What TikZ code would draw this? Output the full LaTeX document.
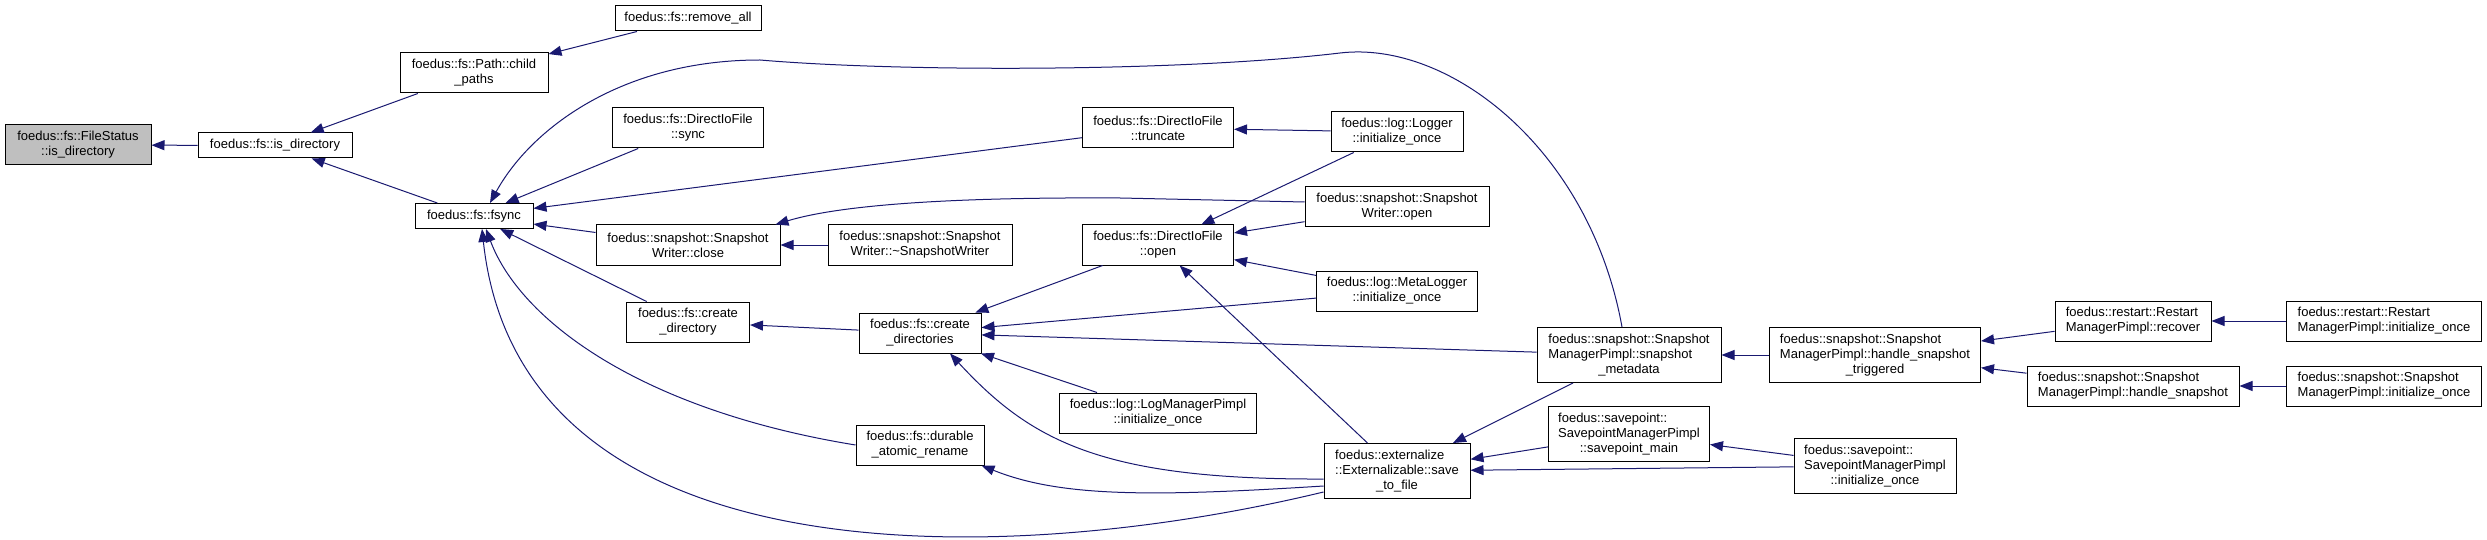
\documentclass[tikz,border=0pt]{standalone}
\usepackage{fontspec}
\setmainfont{Liberation Sans}
\usetikzlibrary{arrows.meta}
\definecolor{callblue}{RGB}{25,25,112}
\definecolor{focusgray}{RGB}{191,191,191}
\newcommand{\ctr}[1]{\hfill#1\hfill\hbox{}}

\begin{document}
\begin{tikzpicture}[
  x=1pt,y=-1pt,
  fn/.style={draw,rectangle,line width=1pt,fill=white,font=\fontsize{13}{15}\selectfont,align=center,inner xsep=2pt,inner ysep=1pt,minimum height=40pt},
  one/.style={minimum height=25pt},
  three/.style={minimum height=55pt},
  call/.style={draw=callblue,line width=1pt,{Triangle[length=13pt,width=10pt]}-}
]
\useasboundingbox (0,0) rectangle (2487,540);
\node[fn,fill=focusgray,minimum width=146pt] (filestatus) at (78,145) {foedus::fs::FileStatus\\::is\_directory};
\node[fn,one,minimum width=154pt] (isdir) at (275,145.5) {foedus::fs::is\_directory};
\node[fn,minimum width=148pt] (childpaths) at (474,73) {foedus::fs::Path::child\\\_paths};
\node[fn,one,minimum width=118pt] (fsync) at (474,216) {foedus::fs::fsync};
\node[fn,one,minimum width=146pt] (removeall) at (688,18.5) {foedus::fs::remove\_all};
\node[fn,minimum width=151pt] (iosync) at (688,128) {foedus::fs::DirectIoFile\\::sync};
\node[fn,minimum width=184pt] (wclose) at (688,245) {foedus::snapshot::Snapshot\\Writer::close};
\node[fn,minimum width=123pt] (mkdir) at (688,322) {foedus::fs::create\\\_directory};
\node[fn,minimum width=184pt] (wdtor) at (920,245) {foedus::snapshot::Snapshot\\Writer::\textasciitilde SnapshotWriter};
\node[fn,minimum width=122pt] (mkdirs) at (920,333) {foedus::fs::create\\\_directories};
\node[fn,minimum width=128pt] (rename) at (920,445) {foedus::fs::durable\\\_atomic\_rename};
\node[fn,minimum width=151pt] (iotrunc) at (1158,128) {foedus::fs::DirectIoFile\\::truncate};
\node[fn,minimum width=151pt] (ioopen) at (1158,245) {foedus::fs::DirectIoFile\\::open};
\node[fn,minimum width=197pt] (logmgr) at (1158,413) {foedus::log::LogManagerPimpl\\::initialize\_once};
\node[fn,minimum width=132pt] (logger) at (1397,132) {foedus::log::Logger\\::initialize\_once};
\node[fn,minimum width=184pt] (wopen) at (1397,207) {foedus::snapshot::Snapshot\\Writer::open};
\node[fn,minimum width=161pt] (metalog) at (1397,291) {foedus::log::MetaLogger\\::initialize\_once};
\node[fn,three,align=left,minimum width=146pt] (savefile) at (1397,471) {foedus::externalize\\::Externalizable::save\\\ctr{\_to\_file}};
\node[fn,three,align=left,minimum width=184pt] (ssmeta) at (1629,355) {foedus::snapshot::Snapshot\\ManagerPimpl::snapshot\\\ctr{\_metadata}};
\node[fn,three,align=left,minimum width=161pt] (spmain) at (1629,434) {foedus::savepoint::\\SavepointManagerPimpl\\\ctr{::savepoint\_main}};
\node[fn,three,align=left,minimum width=211pt] (sstrig) at (1875,355) {foedus::snapshot::Snapshot\\ManagerPimpl::handle\_snapshot\\\ctr{\_triggered}};
\node[fn,three,align=left,minimum width=162pt] (spinit) at (1875,466) {foedus::savepoint::\\SavepointManagerPimpl\\\ctr{::initialize\_once}};
\node[fn,align=left,minimum width=156pt] (rsrecover) at (2133,321) {foedus::restart::Restart\\ManagerPimpl::recover};
\node[fn,align=left,minimum width=212pt] (sshandle) at (2133,386) {foedus::snapshot::Snapshot\\ManagerPimpl::handle\_snapshot};
\node[fn,align=left,minimum width=195pt] (rsinit) at (2384,321) {foedus::restart::Restart\\ManagerPimpl::initialize\_once};
\node[fn,align=left,minimum width=195pt] (ssinit) at (2384,386) {foedus::snapshot::Snapshot\\ManagerPimpl::initialize\_once};

\draw[call] (filestatus) -- (isdir);
\draw[call] (isdir) -- (childpaths);
\draw[call] (isdir) -- (fsync);
\draw[call] (childpaths) -- (removeall);
\draw[call] (fsync) -- (iosync);
\draw[call] (fsync) -- (iotrunc);
\draw[call] (fsync) -- (wclose);
\draw[call] (fsync) -- (mkdir);
\draw[call] ([xshift=12pt]fsync.south) .. controls (520,320) and (640,410) .. (rename.west);
\draw[call] ([xshift=8pt]fsync.south) .. controls (520,580) and (1000,570) .. ([yshift=-21pt]savefile.west);
\draw[call] ([xshift=16pt]fsync.north) .. controls (530,130) and (620,60) .. (760,60)
  .. controls (900,72) and (1180,72) .. (1340,53)
  .. controls (1450,40) and (1590,150) .. ([xshift=-7pt]ssmeta.north);
\draw[call] ([xshift=-5pt]wclose.north east) .. controls (840,205) and (950,197) .. (1120,198) -- ([yshift=5pt]wopen.west);
\draw[call] (wclose) -- (wdtor);
\draw[call] (mkdir) -- (mkdirs);
\draw[call] (iotrunc) -- (logger);
\draw[call] (ioopen) -- (logger);
\draw[call] (ioopen) -- (wopen);
\draw[call] (ioopen) -- (metalog);
\draw[call] (ioopen) -- (savefile);
\draw[call] (mkdirs) -- (ioopen);
\draw[call] (mkdirs) -- (metalog);
\draw[call] (mkdirs) -- (ssmeta);
\draw[call] (mkdirs) -- (logmgr);
\draw[call] ([xshift=30pt]mkdirs.south) .. controls (1030,440) and (1100,480) .. ([yshift=-8pt]savefile.west);
\draw[call] ([xshift=-3pt]rename.south east) .. controls (1060,497) and (1150,497) .. ([yshift=-15pt]savefile.west);
\draw[call] (savefile) -- (spmain);
\draw[call] (savefile) -- (spinit);
\draw[call] (savefile) -- (ssmeta);
\draw[call] (ssmeta) -- (sstrig);
\draw[call] (spmain) -- (spinit);
\draw[call] (sstrig) -- (rsrecover);
\draw[call] (sstrig) -- (sshandle);
\draw[call] (rsrecover) -- (rsinit);
\draw[call] (sshandle) -- (ssinit);
\end{tikzpicture}
\end{document}
